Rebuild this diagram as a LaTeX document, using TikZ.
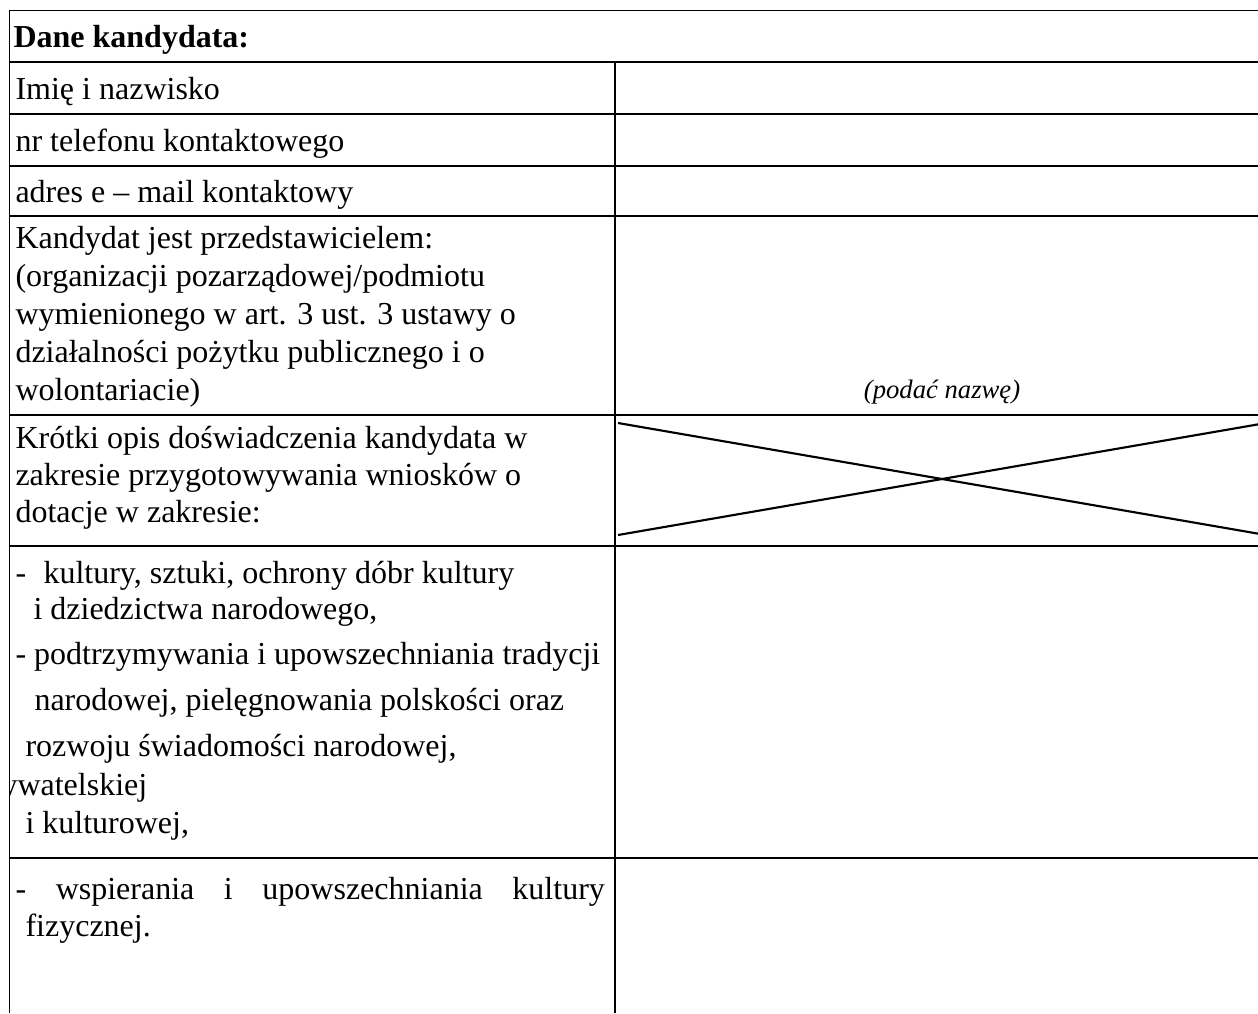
\documentclass[tikz,border=0pt]{standalone}
\usepackage{fontspec}
\setmainfont{Liberation Serif}
\tikzset{
    tabline/.style={line width=0.45pt},
    cross/.style={line width=0.8pt},
    cell/.style={anchor=base west,inner sep=0pt,font=\fontsize{12}{13.8}\selectfont},
    header/.style={cell,font=\fontsize{12}{13.8}\selectfont\bfseries},
    hint/.style={anchor=base,inner sep=0pt,font=\fontsize{10}{12}\selectfont\itshape}
}
\def\lx{9.5}
\def\cx{615}
\def\rx{1258}
\def\tx{15}

\begin{document}
\begin{tikzpicture}[x=0.375pt,y=-0.375pt]
  \useasboundingbox (0,0) rectangle (1258,1013);

  % Frame and rows
  \draw[tabline] (\lx,1013) -- (\lx,10.5) -- (\rx,10.5);
  \foreach \ry in {62,114,166,216,415,546,858}
    \draw[tabline] (\lx,\ry) -- (\rx,\ry);
  \draw[tabline] (\cx,62) -- (\cx,1013);

  % Crossed out cell
  \coordinate (xtl) at (618,423);
  \coordinate (xbl) at (618,535);
  \coordinate (xtr) at (1266,423);
  \coordinate (xbr) at (1266,535);
  \draw[cross] (xtl) -- (xbr);
  \draw[cross] (xbl) -- (xtr);

  % Left column
  \node[header] (dane) at (13,47) {Dane kandydata:};
  \node[cell] (imie) at (\tx,99) {Imię i nazwisko};
  \node[cell] (tel) at (\tx,151) {nr telefonu kontaktowego};
  \node[cell] (mail) at (\tx,202) {adres e – mail kontaktowy};

  \node[cell] (kand1) at (\tx,248) {Kandydat jest przedstawicielem:};
  \node[cell] (kand2) at (\tx,286) {(organizacji pozarządowej/podmiotu};
  \node[cell] (kand3) at (\tx,324) {wymienionego w art. 3 ust. 3 ustawy o};
  \node[cell] (kand4) at (\tx,362) {działalności pożytku publicznego i o};
  \node[cell] (kand5) at (\tx,400) {wolontariacie)};
  \node[hint] (nazwa) at (942,398) {(podać nazwę)};

  \node[cell] (opis1) at (\tx,448) {Krótki opis doświadczenia kandydata w};
  \node[cell] (opis2) at (\tx,485) {zakresie przygotowywania wniosków o};
  \node[cell] (opis3) at (\tx,522) {dotacje w zakresie:};

  \node[cell] (kult1) at (\tx,583) {-\hspace{6.5pt}kultury, sztuki, ochrony dóbr kultury};
  \node[cell] (kult2) at (33,619) {i dziedzictwa narodowego,};
  \node[cell] (trad1) at (\tx,664) {- podtrzymywania i upowszechniania tradycji};
  \node[cell] (trad2) at (34,710) {narodowej, pielęgnowania polskości oraz};
  \node[cell] (trad3) at (25,756) {rozwoju świadomości narodowej,};
  \begin{scope}
    \clip (\lx,546) rectangle (\cx,858);
    \node[cell] (trad4) at (-31,795) {obywatelskiej};
  \end{scope}
  \node[cell] (trad5) at (25,833) {i kulturowej,};

  \node[cell] (sport1) at (\tx,899) {\makebox[221pt][s]{- wspierania i upowszechniania kultury}};
  \node[cell] (sport2) at (25,936) {fizycznej.};
\end{tikzpicture}
\end{document}
